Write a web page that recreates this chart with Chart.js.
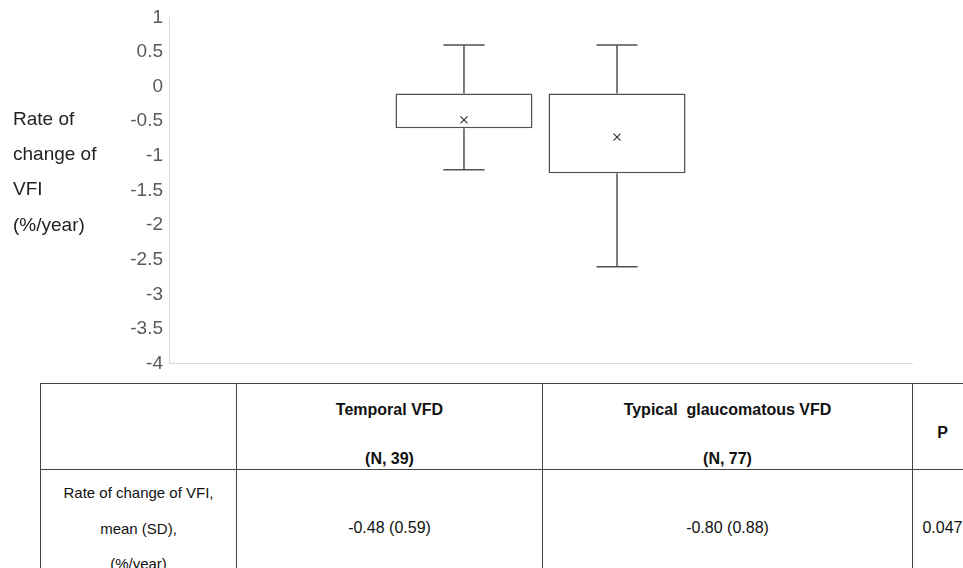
<!DOCTYPE html>
<html lang="en">
<head>
  <meta charset="UTF-8">
  <title>Rate of change of VFI</title>
  <script src="https://cdn.jsdelivr.net/npm/chart.js"></script>
  <style>
    html, body { margin: 0; padding: 0; background: #fff; width: 963px; height: 568px; overflow: hidden; font-family: "Liberation Sans", Arial, sans-serif; }
    #chart { position: absolute; left: 0; top: 0; }
    .ytitle { position: absolute; left: 13px; font-size: 19px; color: #222; line-height: 22px; white-space: nowrap; }
    #tbl { position: absolute; left: 40px; top: 383px; width: 932px; border-collapse: collapse; table-layout: fixed; }
    #tbl td { border: 1.5px solid #444; padding: 0; vertical-align: top; text-align: center; color: #111; white-space: nowrap; overflow: hidden; }
    #tbl .hd { font-weight: bold; font-size: 16px; line-height: 20px; }
    #tbl .bd { font-size: 15px; line-height: 35.5px; }
    #tbl .val { font-size: 16px; line-height: 35.5px; }
  </style>
</head>
<body>
  <canvas id="chart" width="963" height="381"></canvas>

  <div class="ytitle" style="top:108px">Rate of</div>
  <div class="ytitle" style="top:143px">change of</div>
  <div class="ytitle" style="top:178px">VFI</div>
  <div class="ytitle" style="top:214px">(%/year)</div>

  <table id="tbl">
    <colgroup>
      <col style="width:196px"><col style="width:306px"><col style="width:370px"><col style="width:60px">
    </colgroup>
    <tr style="height:85px">
      <td></td>
      <td class="hd"><div style="margin-top:16px">Temporal VFD</div><div style="margin-top:29px">(N, 39)</div></td>
      <td class="hd"><div style="margin-top:16px">Typical&nbsp; glaucomatous VFD</div><div style="margin-top:29px">(N, 77)</div></td>
      <td class="hd"><div style="margin-top:39px">P</div></td>
    </tr>
    <tr style="height:120px">
      <td class="bd"><div style="margin-top:5px">Rate of change of VFI,</div><div>mean (SD),</div><div>(%/year)</div></td>
      <td class="val"><div style="margin-top:40px">-0.48 (0.59)</div></td>
      <td class="val"><div style="margin-top:40px">-0.80 (0.88)</div></td>
      <td class="val"><div style="margin-top:40px">0.047</div></td>
    </tr>
  </table>

  <script>
    // values
    const groups = ['Temporal VFD', 'Typical glaucomatous VFD'];
    const whiskerMin = [-1.2, -2.6];
    const q1 = [-0.6, -1.25];
    const q3 = [-0.1, -0.1];
    const whiskerMax = [0.6, 0.6];
    const means = [-0.48, -0.73];
    const yMin = -4, yMax = 1, yStep = 0.5;

    const lineColor = '#505050';

    // whiskers and mean markers, placed from each box element and the y scale
    const whiskers = {
      id: 'whiskers',
      afterDatasetsDraw(chart) {
        const ctx = chart.ctx;
        const y = chart.scales.y;
        ctx.save();
        groups.forEach((g, i) => {
          const bar = chart.getDatasetMeta(i).data[0];
          const x = bar.x;
          const cap = bar.width * 0.3;
          const yMaxPx = y.getPixelForValue(whiskerMax[i]);
          const yMinPx = y.getPixelForValue(whiskerMin[i]);
          ctx.strokeStyle = lineColor;
          ctx.lineWidth = 1.5;
          ctx.beginPath();
          ctx.moveTo(x, y.getPixelForValue(q3[i]));
          ctx.lineTo(x, yMaxPx);
          ctx.moveTo(x - cap / 2, yMaxPx);
          ctx.lineTo(x + cap / 2, yMaxPx);
          ctx.moveTo(x, y.getPixelForValue(q1[i]));
          ctx.lineTo(x, yMinPx);
          ctx.moveTo(x - cap / 2, yMinPx);
          ctx.lineTo(x + cap / 2, yMinPx);
          ctx.stroke();

          const my = y.getPixelForValue(means[i]);
          const s = 3.5;
          ctx.strokeStyle = '#333';
          ctx.lineWidth = 1.2;
          ctx.beginPath();
          ctx.moveTo(x - s, my - s); ctx.lineTo(x + s, my + s);
          ctx.moveTo(x + s, my - s); ctx.lineTo(x - s, my + s);
          ctx.stroke();
        });
        ctx.restore();
      }
    };

    const chart = new Chart(document.getElementById('chart'), {
      type: 'bar',
      data: {
        labels: [''],
        datasets: groups.map((g, i) => ({
          label: g,
          data: [[q1[i], q3[i]]],
          backgroundColor: '#fff',
          borderColor: lineColor,
          borderWidth: 1.5,
          borderSkipped: false,
          barPercentage: 0.895,
          categoryPercentage: 0.412
        }))
      },
      options: {
        responsive: false,
        animation: false,
        devicePixelRatio: 1,
        layout: { padding: { top: 3, right: 51, bottom: 0, left: 0 } },
        plugins: { legend: { display: false }, tooltip: { enabled: false } },
        scales: {
          x: {
            grid: { display: false, drawTicks: false },
            border: { display: true, color: '#d9d9d9', width: 1 },
            ticks: { display: false }
          },
          y: {
            min: yMin, max: yMax,
            grid: { display: false, drawTicks: false },
            border: { display: true, color: '#d9d9d9', width: 1 },
            ticks: {
              stepSize: yStep,
              padding: 6,
              color: '#595959',
              font: { family: 'Liberation Sans', size: 19 },
              callback: v => String(Math.round(v * 10) / 10)
            },
            afterFit(scale) { scale.width = 169; }
          }
        }
      },
      plugins: [whiskers]
    });
  </script>
</body>
</html>
